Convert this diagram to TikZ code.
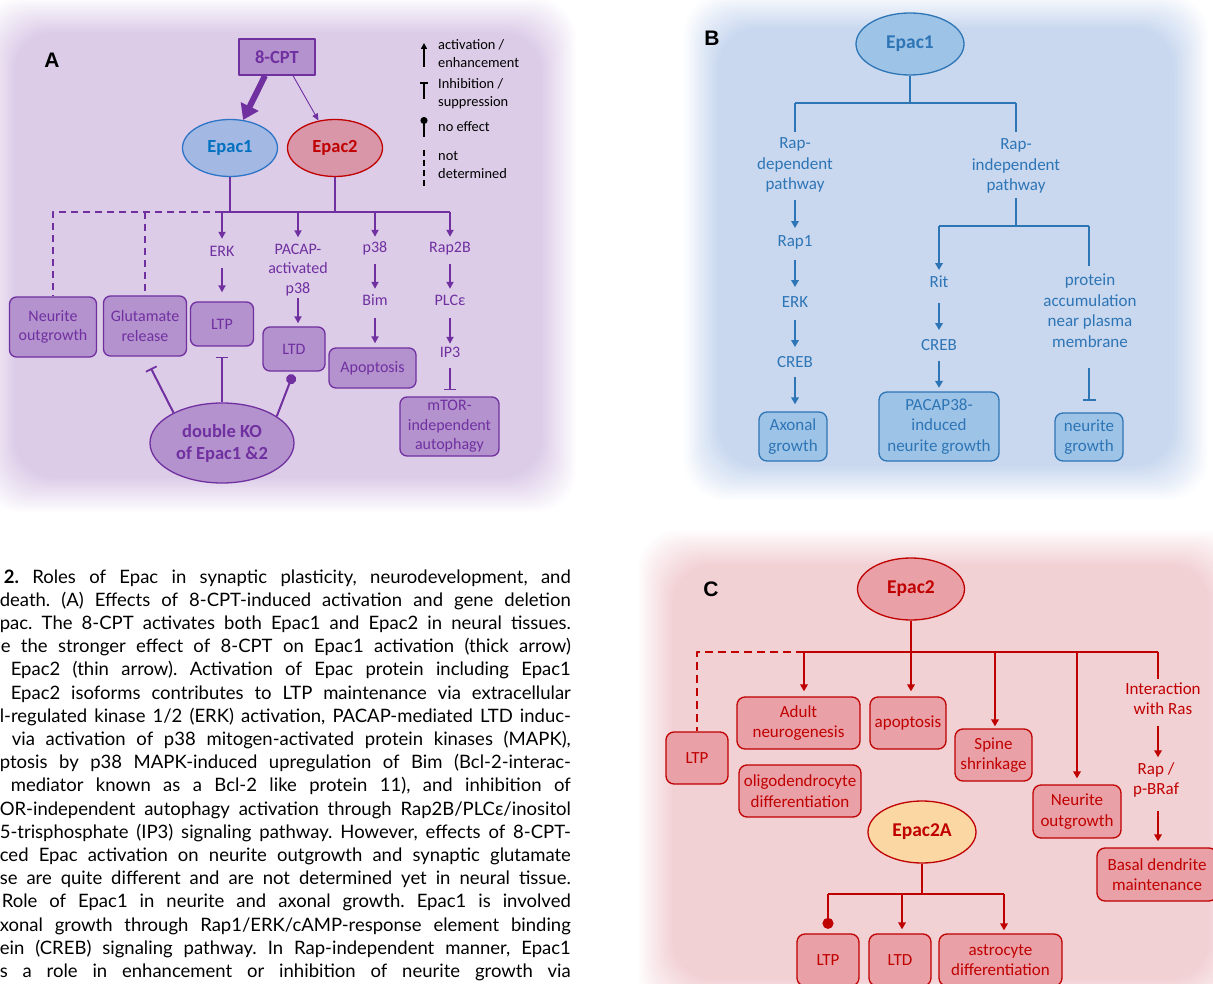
\documentclass[tikz,border=0pt]{standalone}
\usepackage{fontspec}
\setmainfont{Carlito}
\newfontfamily\capfont{Lato}
\newfontfamily\labfont{Liberation Sans}
\usetikzlibrary{arrows.meta,shapes.geometric}

\definecolor{Apur}{RGB}{112,48,160}
\definecolor{Abox}{RGB}{180,146,206}
\definecolor{Abg}{RGB}{220,204,232}
\definecolor{E1fill}{RGB}{163,184,226}
\definecolor{E1line}{RGB}{46,117,200}
\definecolor{E1text}{RGB}{0,112,192}
\definecolor{E2fill}{RGB}{217,150,168}
\definecolor{RedC}{RGB}{192,0,0}
\definecolor{Bbg}{RGB}{201,216,239}
\definecolor{Bbox}{RGB}{157,195,230}
\definecolor{Bblue}{RGB}{46,117,182}
\definecolor{Cbg}{RGB}{242,209,213}
\definecolor{Cbox}{RGB}{233,160,166}
\definecolor{Corange}{RGB}{250,215,163}

\newcommand{\softbg}[5]{%
  \foreach \k [evaluate=\k as \op using {1/(20-\k)}] in {0,...,19}{%
    \fill[#1, opacity=\op, rounded corners=40pt] ({#2+1.8*\k},{#3+1.8*\k}) rectangle ({#4-1.8*\k},{#5-1.8*\k});
  }%
}
\newcommand{\capline}[3]{%
  \node[capstyle] (cap#1) at (571,{583+23.2*(#1-1)}) {\hbox to #2pt{\frenchspacing\hskip 0pt minus 1fil\relax #3}};}

\tikzset{
  plabel/.style={font=\labfont\bfseries\fontsize{21}{24}\selectfont, inner sep=0pt},
  capstyle/.style={anchor=base east, inner sep=0pt, font=\capfont\fontsize{18.5}{21}\selectfont},
  ell/.style={ellipse, line width=1.3pt, inner sep=0pt, align=center},
  boldA/.style={font=\fontsize{18.5}{22}\selectfont\bfseries},
  boldBC/.style={font=\fontsize{19.5}{23}\selectfont\bfseries},
  abox/.style={draw=Apur, fill=Abox, line width=1.3pt, rounded corners=7pt, text=Apur, align=center, inner sep=0pt, font=\fontsize{16}{19.5}\selectfont},
  atext/.style={text=Apur, align=center, inner sep=0pt, font=\fontsize{16}{19.5}\selectfont},
  at1/.style={atext, text height=11pt, text depth=3pt},
  aline/.style={draw=Apur, line width=1.8pt},
  aarrow/.style={aline, -{Triangle[length=7pt,width=7pt]}},
  ainh/.style={aline, -{Bar[width=12pt,line width=1.8pt]}},
  anoe/.style={aline, -{Circle[length=10pt]}},
  dashA/.style={dash pattern=on 7pt off 5pt},
  legtext/.style={anchor=west, align=left, inner sep=0pt, font=\fontsize{14.4}{18}\selectfont},
  legline/.style={draw=black, line width=1.7pt},
  bbox/.style={draw=Bblue, fill=Bbox, line width=1.3pt, rounded corners=8pt, text=Bblue, align=center, inner sep=0pt, font=\fontsize{17}{20.5}\selectfont},
  btext/.style={text=Bblue, align=center, inner sep=0pt, font=\fontsize{17}{20.5}\selectfont},
  bt1/.style={btext, text height=12pt, text depth=3.5pt},
  bline/.style={draw=Bblue, line width=1.8pt},
  barrow/.style={bline, -{Triangle[length=7pt,width=7.5pt]}},
  binh/.style={bline, -{Bar[width=13pt,line width=2.2pt]}},
  cbox/.style={draw=RedC, fill=Cbox, line width=1.3pt, rounded corners=8pt, text=RedC, align=center, inner sep=0pt, font=\fontsize{17}{20.5}\selectfont},
  ctext/.style={text=RedC, align=center, inner sep=0pt, font=\fontsize{17}{20.5}\selectfont},
  cline/.style={draw=RedC, line width=1.8pt},
  carrow/.style={cline, -{Triangle[length=7pt,width=7.5pt]}},
  cnoe/.style={cline, -{Circle[length=11pt]}},
  dashC/.style={dash pattern=on 8pt off 5pt},
}

\begin{document}
\begin{tikzpicture}[x=1pt,y=-1pt,line join=round]
\useasboundingbox (0,0) rectangle (1213,984);

% ---------- backgrounds ----------
\softbg{Abg}{-20}{-2}{576}{512}
\softbg{Bbg}{684}{-6}{1208}{500}
\softbg{Cbg}{638}{530}{1244}{1014}

% ---------- caption ----------
\capline{1}{567}{{\bfseries 2.} Roles of Epac in synaptic plasticity, neurodevelopment, and}
\capline{2}{571}{death. (A) Effects of 8-CPT-induced activation and gene deletion}
\capline{3}{571}{pac. The 8-CPT activates both Epac1 and Epac2 in neural tissues.}
\capline{4}{570}{e the stronger effect of 8-CPT on Epac1 activation (thick arrow)}
\capline{5}{560}{Epac2 (thin arrow). Activation of Epac protein including Epac1}
\capline{6}{560}{Epac2 isoforms contributes to LTP maintenance via extracellular}
\capline{7}{571}{l-regulated kinase 1/2 (ERK) activation, PACAP-mediated LTD induc-}
\capline{8}{559}{via activation of p38 mitogen-activated protein kinases (MAPK),}
\capline{9}{571}{ptosis by p38 MAPK-induced upregulation of Bim (Bcl-2-interac-}
\capline{10}{560}{mediator known as a Bcl-2 like protein 11), and inhibition of}
\capline{11}{571}{OR-independent autophagy activation through Rap2B/PLCε/inositol}
\capline{12}{571}{5-trisphosphate (IP3) signaling pathway. However, effects of 8-CPT-}
\capline{13}{571}{ced Epac activation on neurite outgrowth and synaptic glutamate}
\capline{14}{571}{se are quite different and are not determined yet in neural tissue.}
\capline{15}{569}{Role of Epac1 in neurite and axonal growth. Epac1 is involved}
\capline{16}{571}{xonal growth through Rap1/ERK/cAMP-response element binding}
\capline{17}{571}{ein (CREB) signaling pathway. In Rap-independent manner, Epac1}
\capline{18}{571}{s a role in enhancement or inhibition of neurite growth via}

% ================= PANEL A =================
\node[plabel] (labA) at (52,60) {A};
\node[abox, sharp corners, minimum width=76pt, minimum height=36pt, boldA] (cpt) at (277,57) {8-CPT};
\node[ell, draw=E1line, fill=E1fill, text=E1text, minimum width=95pt, minimum height=57pt, boldA] (epac1) at (230,148) {Epac1};
\node[ell, draw=RedC, fill=E2fill, text=RedC, minimum width=95pt, minimum height=57pt, boldA] (epac2) at (335,148) {Epac2};

\node[abox, minimum width=87pt, minimum height=60pt] (neur) at (53,327) {Neurite\\outgrowth};
\node[abox, minimum width=83pt, minimum height=60pt] (glut) at (145,326) {Glutamate\\release};
\node[abox, minimum width=63pt, minimum height=44pt] (ltpA) at (222,324) {LTP};
\node[abox, minimum width=62pt, minimum height=44pt] (ltdA) at (294,349) {LTD};
\node[abox, minimum width=87pt, minimum height=40pt] (apopA) at (372.5,368) {Apoptosis};
\node[abox, minimum width=99pt, minimum height=59pt] (mtor) at (449.5,426.5) {mTOR-\\independent\\autophagy};
\node[ell, draw=Apur, fill=Abox, text=Apur, minimum width=144pt, minimum height=80pt, font=\fontsize{18.5}{22}\selectfont\bfseries] (dko) at (222,443) {double KO\\of Epac1 \&2};

\node[at1] (erk) at (222,253) {ERK};
\node[atext] (pacap) at (298,270) {PACAP-\\activated\\p38};
\node[at1] (p38) at (375,249) {p38};
\node[at1] (bim) at (375,302) {Bim};
\node[at1] (rap2b) at (450,249) {Rap2B};
\node[at1] (plce) at (450,302) {PLCε};
\node[at1] (ip3) at (450,354) {IP3};

\coordinate (busL) at (222,212);
\coordinate (busR) at (450,212);
\coordinate (busD) at (53,212);
\draw[aline] (busL) -- (busR);
\draw[aline] (epac1.south) -- (epac1.south |- busL);
\draw[aline] (epac2.south) -- (epac2.south |- busL);
\draw[aline, dashA] (busL) -- (busD) -- (neur.north);
\draw[aline, dashA] (glut.north |- busL) -- (glut.north);

\draw[aarrow, shorten >=7pt] (erk |- busL) -- (erk);
\draw[aarrow, shorten <=8pt, shorten >=9pt] (erk) -- (ltpA);
\draw[aarrow, shorten >=6.5pt] (pacap |- busL) -- (pacap);
\draw[aarrow, shorten <=2pt, shorten >=3pt] (pacap) -- (pacap |- ltdA.north);
\draw[aarrow, shorten >=5pt] (p38 |- busL) -- (p38);
\draw[aarrow, shorten <=8pt, shorten >=6pt] (p38) -- (bim);
\draw[aarrow, shorten <=9pt, shorten >=4pt] (bim) -- (bim |- apopA.north);
\draw[aarrow, shorten >=5pt] (busR) -- (rap2b);
\draw[aarrow, shorten <=8pt, shorten >=6pt] (rap2b) -- (plce);
\draw[aarrow, shorten <=9pt, shorten >=3pt] (plce) -- (ip3);
\draw[ainh, shorten <=7pt, shorten >=6pt] (ip3) -- (ip3 |- mtor.north);

\draw[aline, line width=6pt, -{Triangle[length=15pt,width=19pt]}] ([xshift=-12pt]cpt.south) -- (epac1.65);
\draw[aline, line width=0.9pt, -{Triangle[length=7pt,width=6pt]}] ([xshift=16pt]cpt.south) -- (epac2.121);

\draw[ainh, line width=2pt, shorten >=13pt] (dko.148) -- (glut.south);
\draw[ainh, line width=2pt, shorten >=10pt] (dko) -- (ltpA);
\draw[anoe, line width=2pt, shorten >=3pt] (dko.26) -- (ltdA.south);

% legend
\coordinate (lg1a) at (424,67); \coordinate (lg1b) at (424,43);
\coordinate (lg2a) at (424,99); \coordinate (lg2b) at (424,82);
\coordinate (lg3a) at (424,137); \coordinate (lg3b) at (424,117);
\coordinate (lg4a) at (424,150); \coordinate (lg4b) at (424,186);
\draw[legline, -{Triangle[length=6pt,width=6pt]}] (lg1a) -- (lg1b);
\draw[legline, -{Bar[width=8pt,line width=1.7pt]}] (lg2a) -- (lg2b);
\draw[legline, -{Circle[length=7pt]}] (lg3a) -- (lg3b);
\draw[legline, dash pattern=on 6pt off 4pt] (lg4a) -- (lg4b);
\node[legtext] (lgt1) at (438,54) {activation /\\enhancement};
\node[legtext] (lgt2) at (438,94) {Inhibition /\\suppression};
\node[legtext] (lgt3) at (438,127) {no effect};
\node[legtext] (lgt4) at (438,165) {not\\determined};

% ================= PANEL B =================
\node[plabel] (labB) at (712,38) {B};
\node[ell, draw=Bblue, fill=Bbox, text=Bblue, minimum width=108pt, minimum height=62pt, boldBC] (epac1B) at (910,44) {Epac1};
\coordinate (bBusL) at (795,103);
\coordinate (bBusR) at (1016,103);
\node[btext] (rapdep) at (795,165.4) {Rap-\\dependent\\pathway};
\node[bt1] (rap1) at (795,242) {Rap1};
\node[bt1] (erkB) at (795,303) {ERK};
\node[bt1] (crebB) at (795,363) {CREB};
\node[bbox, minimum width=68pt, minimum height=49pt] (axon) at (793,436.5) {Axonal\\growth};
\node[btext] (rapind) at (1016,166.4) {Rap-\\independent\\pathway};
\coordinate (bBus2M) at (1016,226);
\coordinate (bBus2L) at (939,226);
\coordinate (bBus2R) at (1089,226);
\node[bt1] (rit) at (939,283) {Rit};
\node[bt1] (crebB2) at (939,346) {CREB};
\node[bbox, minimum width=120pt, minimum height=69pt] (pac38) at (939,426.5) {PACAP38-\\induced\\neurite growth};
\node[btext] (protein) at (1090,310.7) {protein\\accumulation\\near plasma\\membrane};
\node[bbox, minimum width=68pt, minimum height=48pt] (ngrowth) at (1089,437) {neurite\\growth};

\draw[bline] (epac1B.south) -- (epac1B.south |- bBusL);
\draw[bline] (bBusL) -- (bBusR);
\draw[bline, shorten >=5.5pt] (bBusL) -- (rapdep);
\draw[bline, shorten >=6.5pt] (bBusR) -- (rapind);
\draw[barrow, shorten <=7pt, shorten >=6pt] (rapdep) -- (rap1);
\draw[barrow, shorten <=10pt, shorten >=8pt] (rap1) -- (erkB);
\draw[barrow, shorten <=9pt, shorten >=8pt] (erkB) -- (crebB);
\draw[barrow, shorten <=6pt, shorten >=7pt] (crebB) -- (crebB |- axon.north);
\draw[bline, shorten <=4pt] (rapind) -- (bBus2M);
\draw[bline] (bBus2L) -- (bBus2R);
\draw[barrow, shorten >=5pt] (bBus2L) -- (rit);
\draw[barrow, shorten <=12pt, shorten >=8pt] (rit) -- (crebB2);
\draw[barrow, shorten <=7pt, shorten >=3.5pt] (crebB2) -- (pac38);
\draw[bline, shorten >=8pt] (bBus2R) -- (bBus2R |- protein.north);
\draw[binh, shorten <=20pt, shorten >=11pt] (bBus2R |- protein.south) -- (ngrowth);

% ================= PANEL C =================
\node[plabel] (labC) at (711,589) {C};
\node[ell, draw=RedC, fill=Cbox, text=RedC, minimum width=107pt, minimum height=62pt, boldBC] (epac2C) at (911,589) {Epac2};
\coordinate (cBusM) at (911,652);
\coordinate (cBusL) at (804,652);
\coordinate (cBusR) at (1158,652);
\coordinate (cBusD) at (697,652);
\coordinate (cB3) at (995,652);
\coordinate (cB4) at (1077,652);

\node[cbox, minimum width=62pt, minimum height=52pt] (ltpC) at (697,758) {LTP};
\node[cbox, minimum width=123pt, minimum height=52pt] (adult) at (798.5,723) {Adult\\neurogenesis};
\node[cbox, minimum width=76pt, minimum height=52pt] (apopC) at (908,723) {apoptosis};
\node[cbox, minimum width=77pt, minimum height=52pt] (spine) at (993.5,755) {Spine\\shrinkage};
\node[cbox, minimum width=88pt, minimum height=53pt] (neurC) at (1077,811.5) {Neurite\\outgrowth};
\node[ctext] (inter) at (1163,698.7) {Interaction\\with Ras};
\node[ctext] (rapb) at (1156,780) {Rap /\\p-BRaf};
\node[cbox, minimum width=120pt, minimum height=53pt] (basal) at (1157,874.5) {Basal dendrite\\maintenance};
\node[cbox, minimum width=122pt, minimum height=52pt] (oligo) at (800,791) {oligodendrocyte\\differentiation};
\node[ell, draw=RedC, fill=Corange, text=RedC, minimum width=108pt, minimum height=62pt, boldBC] (epac2A) at (922,832) {Epac2A};
\coordinate (c2BusM) at (922,894);
\coordinate (c2BusL) at (828,894);
\coordinate (c2BusT) at (902,894);
\coordinate (c2BusR) at (1004,894);
\node[cbox, minimum width=62pt, minimum height=52pt] (ltpC2) at (828,960) {LTP};
\node[cbox, minimum width=62pt, minimum height=52pt] (ltdC) at (900,960) {LTD};
\node[cbox, minimum width=123pt, minimum height=52pt] (astro) at (1000.5,960) {astrocyte\\differentiation};

\draw[cline] (epac2C.south) -- (cBusM);
\draw[cline] (cBusL) -- (cBusR);
\draw[cline, dashC] (cBusL) -- (cBusD) -- (ltpC.north);
\draw[carrow, shorten >=5pt] (cBusL) -- (cBusL |- adult.north);
\draw[carrow, shorten >=5pt] (cBusM) -- (cBusM |- apopC.north);
\draw[carrow, shorten >=2pt] (cB3) -- (cB3 |- spine.north);
\draw[carrow, shorten >=6pt] (cB4) -- (neurC);
\draw[cline, shorten >=3pt] (cBusR) -- (cBusR |- inter.north);
\draw[carrow, shorten <=10.5pt, shorten >=5pt] (cBusR |- inter.south) -- (cBusR |- rapb.north);
\draw[carrow, shorten <=13pt, shorten >=6pt] (cBusR |- rapb.south) -- (cBusR |- basal.north);

\draw[cline] (epac2A.south) -- (c2BusM);
\draw[cline] (c2BusL) -- (c2BusR);
\draw[cnoe, shorten >=4.5pt] (c2BusL) -- (ltpC2);
\draw[carrow, shorten >=4pt] (c2BusT) -- (c2BusT |- ltdC.north);
\draw[carrow, shorten >=3pt] (c2BusR) -- (c2BusR |- astro.north);
\end{tikzpicture}
\end{document}
